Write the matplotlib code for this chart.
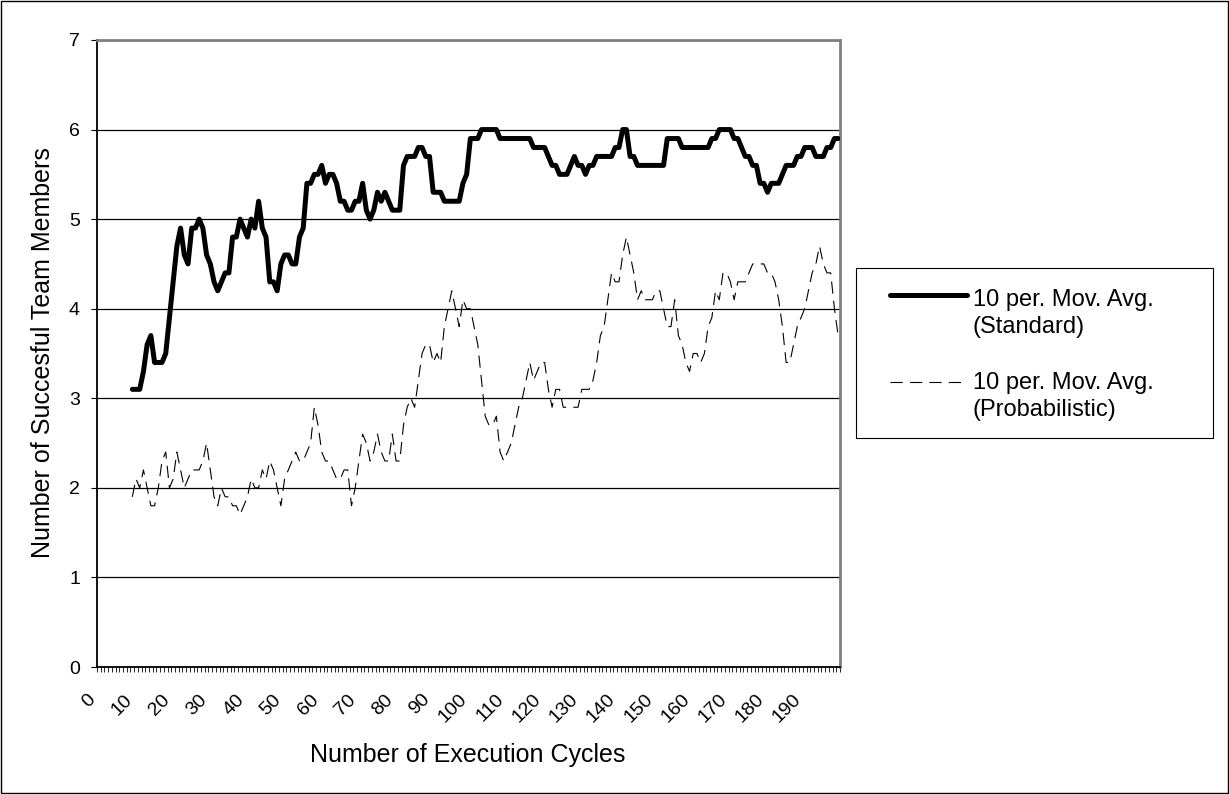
import numpy as np
import matplotlib
matplotlib.use("Agg")
import matplotlib.pyplot as plt
from matplotlib.lines import Line2D
from matplotlib.patches import Rectangle
from matplotlib.transforms import offset_copy

plt.rcParams["font.family"] = ["Liberation Sans", "DejaVu Sans"]

# --- data: 10 period moving averages, first value at cycle 9 ---
first_cycle = 9
n_categories = 200

standard_avg = [
    3.1, 3.1, 3.1, 3.3, 3.6, 3.7, 3.4, 3.4, 3.4, 3.5,
    3.9, 4.3, 4.7, 4.9, 4.6, 4.5, 4.9, 4.9, 5.0, 4.9,
    4.6, 4.5, 4.3, 4.2, 4.3, 4.4, 4.4, 4.8, 4.8, 5.0,
    4.9, 4.8, 5.0, 4.9, 5.2, 4.9, 4.8, 4.3, 4.3, 4.2,
    4.5, 4.6, 4.6, 4.5, 4.5, 4.8, 4.9, 5.4, 5.4, 5.5,
    5.5, 5.6, 5.4, 5.5, 5.5, 5.4, 5.2, 5.2, 5.1, 5.1,
    5.2, 5.2, 5.4, 5.1, 5.0, 5.1, 5.3, 5.2, 5.3, 5.2,
    5.1, 5.1, 5.1, 5.6, 5.7, 5.7, 5.7, 5.8, 5.8, 5.7,
    5.7, 5.3, 5.3, 5.3, 5.2, 5.2, 5.2, 5.2, 5.2, 5.4,
    5.5, 5.9, 5.9, 5.9, 6.0, 6.0, 6.0, 6.0, 6.0, 5.9,
    5.9, 5.9, 5.9, 5.9, 5.9, 5.9, 5.9, 5.9, 5.8, 5.8,
    5.8, 5.8, 5.7, 5.6, 5.6, 5.5, 5.5, 5.5, 5.6, 5.7,
    5.6, 5.6, 5.5, 5.6, 5.6, 5.7, 5.7, 5.7, 5.7, 5.7,
    5.8, 5.8, 6.0, 6.0, 5.7, 5.7, 5.6, 5.6, 5.6, 5.6,
    5.6, 5.6, 5.6, 5.6, 5.9, 5.9, 5.9, 5.9, 5.8, 5.8,
    5.8, 5.8, 5.8, 5.8, 5.8, 5.8, 5.9, 5.9, 6.0, 6.0,
    6.0, 6.0, 5.9, 5.9, 5.8, 5.7, 5.7, 5.6, 5.6, 5.4,
    5.4, 5.3, 5.4, 5.4, 5.4, 5.5, 5.6, 5.6, 5.6, 5.7,
    5.7, 5.8, 5.8, 5.8, 5.7, 5.7, 5.7, 5.8, 5.8, 5.9,
    5.9,
]

probabilistic_avg = [
    1.9, 2.1, 2.0, 2.2, 2.0, 1.8, 1.8, 2.0, 2.3, 2.4,
    2.0, 2.1, 2.4, 2.2, 2.0, 2.1, 2.2, 2.2, 2.2, 2.3,
    2.5, 2.2, 1.9, 1.8, 2.0, 1.9, 1.9, 1.8, 1.8, 1.7,
    1.8, 1.9, 2.1, 2.0, 2.0, 2.2, 2.1, 2.3, 2.2, 2.0,
    1.8, 2.1, 2.2, 2.3, 2.4, 2.3, 2.3, 2.4, 2.5, 2.9,
    2.7, 2.4, 2.3, 2.3, 2.2, 2.1, 2.1, 2.2, 2.2, 1.8,
    2.0, 2.3, 2.6, 2.5, 2.3, 2.4, 2.6, 2.4, 2.3, 2.3,
    2.6, 2.3, 2.3, 2.7, 2.9, 3.0, 2.9, 3.2, 3.5, 3.6,
    3.6, 3.4, 3.5, 3.4, 3.8, 4.0, 4.2, 4.0, 3.8, 4.1,
    4.0, 4.0, 3.8, 3.6, 3.2, 2.8, 2.7, 2.7, 2.8, 2.4,
    2.3, 2.4, 2.5, 2.7, 2.9, 3.0, 3.2, 3.4, 3.2, 3.3,
    3.4, 3.4, 3.1, 2.9, 3.1, 3.1, 2.9, 2.9, 2.9, 2.9,
    2.9, 3.1, 3.1, 3.1, 3.2, 3.4, 3.7, 3.8, 4.1, 4.4,
    4.3, 4.3, 4.6, 4.8, 4.6, 4.4, 4.1, 4.2, 4.1, 4.1,
    4.1, 4.2, 4.2, 4.0, 3.8, 3.8, 4.1, 3.7, 3.6, 3.4,
    3.3, 3.5, 3.5, 3.4, 3.5, 3.8, 3.9, 4.2, 4.1, 4.4,
    4.4, 4.3, 4.1, 4.3, 4.3, 4.3, 4.4, 4.5, 4.5, 4.5,
    4.5, 4.4, 4.4, 4.3, 4.1, 3.8, 3.4, 3.4, 3.6, 3.8,
    3.9, 4.0, 4.2, 4.4, 4.5, 4.7, 4.5, 4.4, 4.4, 4.0,
    3.7,
]

label_cycles = [0, 10, 20, 30, 40, 50, 60, 70, 80, 90,
                100, 110, 120, 130, 140, 150, 160, 170, 180, 190]
tick_labels = ["0", "10", "20", "30", "40", "50", "60", "70", "80", "90",
               "100", "110", "120", "130", "140", "150", "160", "170", "180", "190"]
y_ticks = [0, 1, 2, 3, 4, 5, 6, 7]

legend_lines = [["10 per. Mov. Avg.", "(Standard)"],
                ["10 per. Mov. Avg.", "(Probabilistic)"]]

cycles = np.arange(first_cycle, first_cycle + len(standard_avg))

# pixel helpers (figure is 1229 x 794 px at 100 dpi)
W, H = 1229, 794
def fx(px):
    return px / W
def fy(py):
    return 1 - py / H

dash = (0, (11, 6.5))

fig = plt.figure(figsize=(12.29, 7.94), dpi=100, facecolor="white")
ax = fig.add_axes([fx(97), fy(667), fx(840) - fx(97), fy(40) - fy(667)])

ax.plot(cycles, standard_avg, color="black", lw=3.6,
        solid_joinstyle="round", solid_capstyle="round", zorder=3)
ax.plot(cycles, probabilistic_avg, color="black", lw=0.8, linestyle=dash, zorder=3)

ax.set_xlim(-0.5, n_categories - 0.5)
ax.set_ylim(0, 7)

# y axis
ax.set_yticks(y_ticks)
ax.tick_params(axis="y", direction="out", length=4.3, width=0.8, pad=8,
               labelsize=14, colors="black")
ax.yaxis.grid(True, color="black", lw=0.9)
ax.set_axisbelow(True)

# x axis: a tick between every category, labels every 10
ax.set_xticks([])
ax.set_xticks(np.arange(-0.5, n_categories, 1), minor=True)
ax.tick_params(axis="x", which="minor", direction="out", length=3.6, width=0.6)
trans = offset_copy(ax.get_xaxis_transform(), fig=fig, x=-12, y=-24, units="dots")
for c, lab in zip(label_cycles, tick_labels):
    ax.text(c, 0, lab, transform=trans, rotation=45, ha="right", va="top",
            rotation_mode="anchor", fontsize=14)

for side in ["left", "bottom"]:
    ax.spines[side].set_color("black")
    ax.spines[side].set_linewidth(1.3)
for side in ["top", "right"]:
    ax.spines[side].set_color("#808080")
    ax.spines[side].set_linewidth(2)

# axis titles
fig.text(fx(468), fy(762), "Number of Execution Cycles", ha="center", va="baseline",
         fontsize=18)
fig.text(fx(50), fy(353), "Number of Succesful Team Members", rotation=90,
         ha="center", va="baseline", rotation_mode="anchor", fontsize=18)

# legend box drawn by hand to match the original layout
fig.patches.append(Rectangle((fx(856), fy(438)), fx(1213) - fx(856), fy(268) - fy(438),
                             transform=fig.transFigure, fill=False,
                             edgecolor="black", lw=0.8))
fig.lines.append(Line2D([fx(890), fx(967)], [fy(295), fy(295)], transform=fig.transFigure,
                        color="black", lw=3.6, solid_capstyle="round"))
fig.lines.append(Line2D([fx(890), fx(967)], [fy(382), fy(382)], transform=fig.transFigure,
                        color="black", lw=0.8, linestyle=dash))
for entry, base in zip(legend_lines, [306, 389]):
    fig.text(fx(973), fy(base), entry[0], va="baseline", ha="left", fontsize=17)
    fig.text(fx(973), fy(base + 27), entry[1], va="baseline", ha="left", fontsize=17)

# chart border
fig.patches.append(Rectangle((fx(1), fy(793)), fx(1228) - fx(1), fy(1) - fy(793),
                             transform=fig.transFigure, fill=False,
                             edgecolor="black", lw=1))

fig.savefig("out.png", dpi=100)
